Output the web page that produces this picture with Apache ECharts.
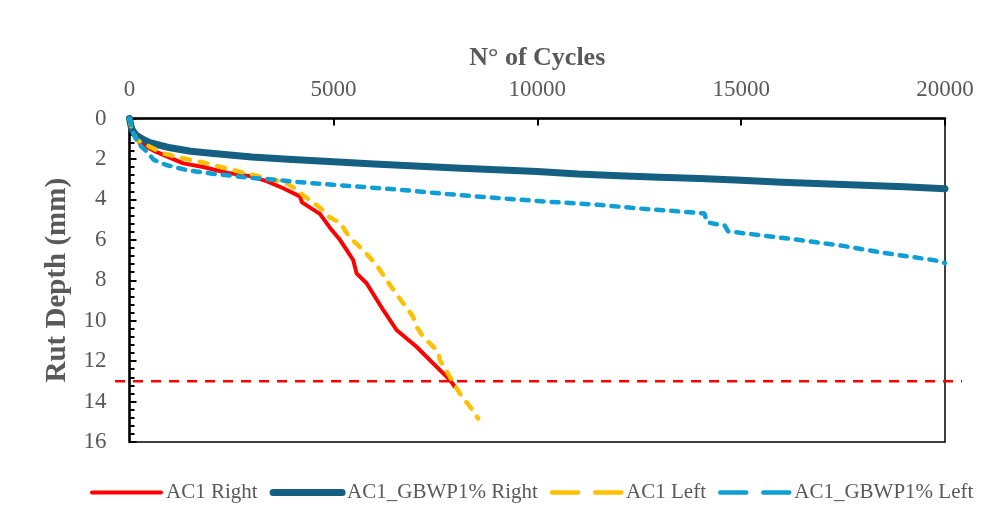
<!DOCTYPE html>
<html>
<head>
<meta charset="utf-8">
<script src="https://cdn.jsdelivr.net/npm/echarts@6/dist/echarts.min.js"></script>
<style>
html,body{margin:0;padding:0;background:#fff;}
#c{width:997px;height:527px;}
</style>
</head>
<body>
<div id="c"></div>
<script>
// ---- data ----
var xTicks = [0, 5000, 10000, 15000, 20000];
var yTicks = [0, 2, 4, 6, 8, 10, 12, 14, 16];
var seriesNames = ['AC1 Right', 'AC1_GBWP1% Right', 'AC1 Left', 'AC1_GBWP1% Left'];

var ac1Right = [[0,0],[50,0.55],[257,1.23],[600,1.6],[1000,1.95],[1319,2.22],[1809,2.4],[2382,2.68],[2953,2.85],[3363,3.1],[3770,3.45],[4179,3.85],[4230,4.15],[4669,4.72],[4914,5.4],[5160,6.0],[5324,6.5],[5485,7.0],[5569,7.66],[5814,8.15],[6221,9.47],[6549,10.46],[7039,11.29],[7446,12.11],[7855,12.93],[7978,13.27]];

var ac1GbwpRight = [[0,0],[50,0.5],[150,0.8],[300,1.0],[500,1.2],[1000,1.45],[1500,1.62],[2000,1.72],[3000,1.9],[4000,2.03],[5000,2.14],[6000,2.25],[7000,2.35],[8000,2.45],[9000,2.53],[10000,2.62],[11000,2.75],[12000,2.83],[13000,2.9],[14000,2.97],[15000,3.06],[16000,3.15],[17000,3.23],[18000,3.3],[19000,3.38],[20000,3.47]];

var ac1Left = [[0,0],[50,0.5],[176,1.06],[500,1.4],[821,1.72],[1200,1.92],[1728,2.14],[2537,2.55],[3363,2.96],[3800,3.15],[4098,3.5],[4260,3.8],[4669,4.4],[4914,4.9],[5160,5.15],[5405,5.9],[5730,6.5],[6059,7.25],[6385,8.23],[6711,9.14],[6956,9.8],[7039,10.3],[7201,10.79],[7569,11.53],[7610,11.94],[7855,12.77],[8101,13.6],[8346,14.25],[8549,14.83]];

var ac1GbwpLeft = [[0,0],[100,0.8],[250,1.3],[400,1.6],[600,2.05],[900,2.3],[1400,2.55],[2000,2.72],[2900,2.92],[3400,3.0],[4000,3.12],[5000,3.28],[6600,3.52],[7800,3.74],[9000,3.93],[10000,4.08],[11500,4.27],[12500,4.45],[13500,4.6],[14100,4.7],[14150,5.05],[14200,5.15],[14600,5.3],[14680,5.58],[15500,5.78],[16400,6.0],[17500,6.3],[18500,6.65],[19200,6.85],[19850,7.05],[20000,7.15]];

var limitDepth = 13;
var limitSpan = [0, 1];

// ---- chart ----
var FONT = '"Liberation Serif", "Times New Roman", serif';
var GRAY = '#595959';
var chart = echarts.init(document.getElementById('c'), null, {renderer: 'canvas'});

var limitData = limitSpan.map(function (s) { return [s, limitDepth]; });

chart.setOption({
  animation: false,
  backgroundColor: '#fff',
  grid: [
    {left: 129.5, right: 52, top: 118.5, bottom: 85, show: true, borderColor: '#000', borderWidth: 1.5, backgroundColor: 'transparent'},
    {left: 115, right: 35, top: 118.5, bottom: 85, show: false}
  ],
  legend: {
    data: [
      {name: seriesNames[0], lineStyle: {width: 4}},
      {name: seriesNames[1], lineStyle: {width: 7}},
      {name: seriesNames[2], lineStyle: {width: 4.5, type: [26, 17]}},
      {name: seriesNames[3], lineStyle: {width: 4.5, type: [26, 17]}}
    ],
    left: 85,
    top: 477,
    itemWidth: 69,
    itemHeight: 14,
    itemGap: 12,
    itemStyle: {opacity: 0},
    textStyle: {fontFamily: FONT, fontSize: 21, color: GRAY}
  },
  xAxis: [
    {
      type: 'value', gridIndex: 0, position: 'top',
      min: xTicks[0], max: xTicks[xTicks.length - 1], interval: xTicks[1] - xTicks[0],
      name: 'N° of Cycles', nameLocation: 'middle', nameGap: 47,
      nameTextStyle: {fontFamily: FONT, fontSize: 26, fontWeight: 'bold', color: GRAY},
      axisLine: {show: true, onZero: false, lineStyle: {color: '#000', width: 2.5}},
      axisTick: {show: true, inside: true, length: 7, lineStyle: {color: '#000', width: 2}},
      axisLabel: {fontFamily: FONT, fontSize: 23, color: GRAY, margin: 17, formatter: function (v) { return String(v); }},
      splitLine: {show: false}
    },
    {type: 'value', gridIndex: 1, min: limitSpan[0], max: limitSpan[1], show: false}
  ],
  yAxis: [
    {
      type: 'value', gridIndex: 0, inverse: true,
      min: yTicks[0], max: yTicks[yTicks.length - 1], interval: yTicks[1] - yTicks[0],
      name: 'Rut Depth (mm)', nameLocation: 'middle', nameGap: 57,
      nameTextStyle: {fontFamily: FONT, fontSize: 29, fontWeight: 'bold', color: GRAY},
      axisLine: {show: true, onZero: false, lineStyle: {color: '#000', width: 2.5}},
      axisTick: {show: true, inside: true, length: 7, lineStyle: {color: '#000', width: 2}},
      minorTick: {show: true, splitNumber: 5, length: 5, lineStyle: {color: '#000', width: 2}},
      axisLabel: {fontFamily: FONT, fontSize: 23, color: GRAY, margin: 23},
      splitLine: {show: false}
    },
    {type: 'value', gridIndex: 1, inverse: true, min: yTicks[0], max: yTicks[yTicks.length - 1], show: false}
  ],
  series: [
    {
      name: seriesNames[0], type: 'line', data: ac1Right, showSymbol: false, symbol: 'none',
      lineStyle: {color: '#FF0000', width: 4, cap: 'round', join: 'round'}, itemStyle: {color: '#FF0000'}
    },
    {
      name: seriesNames[1], type: 'line', data: ac1GbwpRight, showSymbol: false, symbol: 'none',
      lineStyle: {color: '#156082', width: 7, cap: 'round', join: 'round'}, itemStyle: {color: '#156082'}
    },
    {
      name: seriesNames[2], type: 'line', data: ac1Left, showSymbol: false, symbol: 'none',
      lineStyle: {color: '#FFC000', width: 4.5, type: [8, 10], cap: 'round', join: 'round'}, itemStyle: {color: '#FFC000'}
    },
    {
      name: seriesNames[3], type: 'line', data: ac1GbwpLeft, showSymbol: false, symbol: 'none',
      lineStyle: {color: '#0F9ED5', width: 4.5, type: [7, 8], cap: 'round', join: 'round'}, itemStyle: {color: '#0F9ED5'}
    },
    {
      name: 'limit', type: 'line', xAxisIndex: 1, yAxisIndex: 1, data: limitData,
      showSymbol: false, symbol: 'none', silent: true,
      lineStyle: {color: '#FF0000', width: 2.5, type: [10, 8]}
    }
  ]
});
</script>
</body>
</html>
